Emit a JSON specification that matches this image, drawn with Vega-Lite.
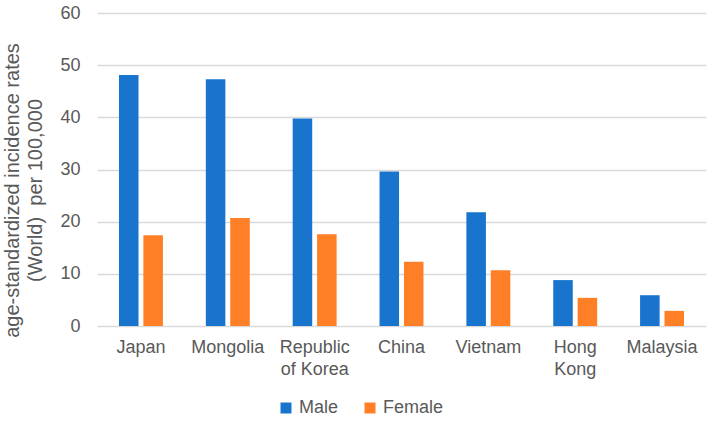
{
  "$schema": "https://vega.github.io/schema/vega-lite/v6.json",
  "width": 609,
  "height": 313,
  "autosize": {"type": "none"},
  "padding": {"left": 97, "top": 13, "right": 9, "bottom": 95},
  "background": "#ffffff",
  "config": {
    "view": {"stroke": null},
    "font": "Liberation Sans",
    "axis": {"labelColor": "#595959", "titleColor": "#595959", "labelFont": "Liberation Sans", "titleFont": "Liberation Sans"}
  },
  "data": {
    "values": [
      {"country": "Japan", "sex": "Male", "rate": 48.1},
      {"country": "Japan", "sex": "Female", "rate": 17.4},
      {"country": "Mongolia", "sex": "Male", "rate": 47.3},
      {"country": "Mongolia", "sex": "Female", "rate": 20.7},
      {"country": "Republic of Korea", "sex": "Male", "rate": 39.8},
      {"country": "Republic of Korea", "sex": "Female", "rate": 17.6},
      {"country": "China", "sex": "Male", "rate": 29.6},
      {"country": "China", "sex": "Female", "rate": 12.3},
      {"country": "Vietnam", "sex": "Male", "rate": 21.8},
      {"country": "Vietnam", "sex": "Female", "rate": 10.7},
      {"country": "Hong Kong", "sex": "Male", "rate": 8.8},
      {"country": "Hong Kong", "sex": "Female", "rate": 5.4},
      {"country": "Malaysia", "sex": "Male", "rate": 5.9},
      {"country": "Malaysia", "sex": "Female", "rate": 2.9}
    ]
  },
  "mark": {"type": "bar"},
  "encoding": {
    "x": {
      "field": "country",
      "type": "nominal",
      "sort": null,
      "scale": {"paddingInner": 0.494, "paddingOuter": 0.253},
      "axis": {
        "title": null,
        "labelAngle": 0,
        "labelFontSize": 18,
        "labelPadding": 12,
        "labelBaseline": "top",
        "labelLineHeight": 22,
        "ticks": false,
        "domain": false,
        "labelExpr": "datum.label == 'Republic of Korea' ? ['Republic', 'of Korea'] : datum.label == 'Hong Kong' ? ['Hong', 'Kong'] : datum.label"
      }
    },
    "xOffset": {"field": "sex", "type": "nominal", "sort": ["Male", "Female"], "scale": {"paddingInner": 0.2}},
    "y": {
      "field": "rate",
      "type": "quantitative",
      "scale": {"domain": [0, 60]},
      "axis": {
        "values": [0, 10, 20, 30, 40, 50, 60],
        "title": ["age-standardized incidence rates", "(World)\u00a0 per 100,000"],
        "titleFontSize": 20,
        "titleFontWeight": "normal",
        "titleLineHeight": 23,
        "titleX": -95,
        "titleY": 177,
        "titleAlign": "center",
        "titleBaseline": "top",
        "titleAngle": -90,
        "labelFontSize": 18,
        "labelPadding": 17,
        "ticks": false,
        "domain": false,
        "gridColor": "#d9d9d9",
        "gridWidth": 1.3
      }
    },
    "color": {
      "field": "sex",
      "type": "nominal",
      "sort": ["Male", "Female"],
      "scale": {"domain": ["Male", "Female"], "range": ["#1874cd", "#ff7f27"]},
      "legend": {
        "title": null,
        "orient": "none",
        "direction": "horizontal",
        "legendX": 180,
        "legendY": 386,
        "symbolType": "square",
        "symbolSize": 121,
        "symbolStrokeWidth": 0,
        "labelFontSize": 18,
        "labelColor": "#595959",
        "labelFont": "Liberation Sans",
        "columnPadding": 22,
        "labelOffset": 4
      }
    }
  }
}
